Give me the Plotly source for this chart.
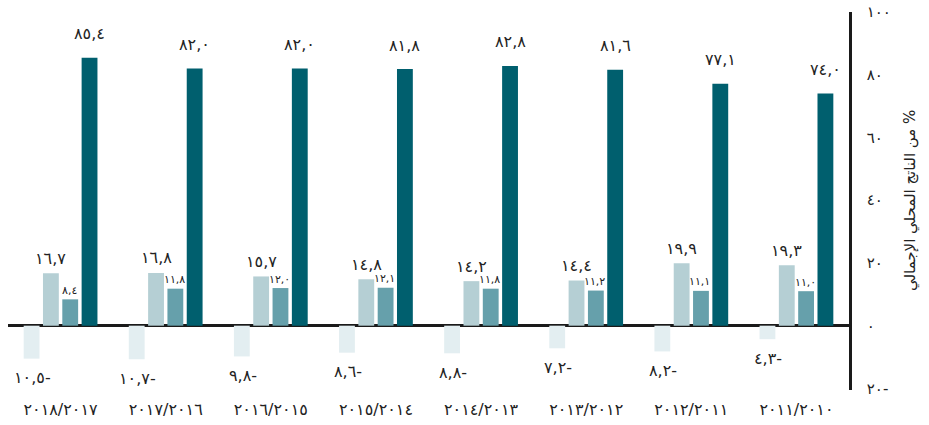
import plotly.graph_objects as go

categories = ["2018/2017", "2017/2016", "2016/2015", "2015/2014",
              "2014/2013", "2013/2012", "2012/2011", "2011/2010"]
series_pale = [-10.5, -10.7, -9.8, -8.6, -8.8, -7.2, -8.2, -4.3]
series_light = [16.7, 16.8, 15.7, 14.8, 14.2, 14.4, 19.9, 19.3]
series_medium = [8.4, 11.8, 12.0, 12.1, 11.8, 11.2, 11.1, 11.0]
series_dark = [85.4, 82.0, 82.0, 81.8, 82.8, 81.6, 77.1, 74.0]
y_ticks = [-20, 0, 20, 40, 60, 80, 100]
y_title = "من الناتج المحلي الإجمالي %"

AR = str.maketrans("0123456789", "٠١٢٣٤٥٦٧٨٩")


def ar_num(v, dec=1):
    s = f"{abs(v):.{dec}f}".replace(".", ",").translate(AR)
    return s + "-" if v < 0 else s


cat_labels = [c.translate(AR) for c in categories]
FONT = "DejaVu Sans"
TXT = "#222222"

colors = ["#e3eef1", "#b5cfd4", "#66a0ab", "#005f6e"]
series = [series_pale, series_light, series_medium, series_dark]
bargap = 0.265
bargroupgap = 0.18

fig = go.Figure()
xs = list(range(len(categories)))
for vals, col in zip(series, colors):
    fig.add_trace(go.Bar(x=xs, y=vals, marker=dict(color=col, line=dict(width=0)),
                         showlegend=False, hoverinfo="skip"))

# label styles per series: (font size, yshift, xshift)
label_style = [(16, -19, 1), (16, 15, 0), (11, 9, -1), (16, 24, 0)]
slot = (1 - bargap) / 4
for k, vals in enumerate(series):
    size, ysh, xsh = label_style[k]
    for i, v in enumerate(vals):
        xpos = i - (1 - bargap) / 2 + (k + 0.5) * slot
        fig.add_annotation(x=xpos, y=v, text=ar_num(v), showarrow=False,
                           xanchor="center", yanchor="middle",
                           yshift=ysh, xshift=xsh,
                           font=dict(family=FONT, size=size, color=TXT))

fig.add_annotation(xref="paper", yref="paper", x=1, y=0.5, xshift=61,
                   text=y_title, textangle=-90, showarrow=False,
                   xanchor="center", yanchor="middle",
                   font=dict(family=FONT, size=15, color=TXT))

fig.update_layout(
    width=929, height=425,
    margin=dict(l=8, r=80, t=12, b=35),
    paper_bgcolor="white", plot_bgcolor="white",
    barmode="group", bargap=bargap, bargroupgap=bargroupgap,
    font=dict(family=FONT, color=TXT),
    xaxis=dict(tickmode="array", tickvals=xs, ticktext=cat_labels,
               range=[-0.5, len(categories) - 0.5], automargin=False,
               showline=False, showgrid=False, zeroline=False,
               ticks="", ticklabelstandoff=8, ticklabeloverflow="allow",
               tickfont=dict(size=16, color=TXT)),
    yaxis=dict(side="right", range=[-20.5, 100], automargin=False,
               tickmode="array", tickvals=y_ticks,
               ticktext=[ar_num(t, 0) for t in y_ticks],
               showgrid=False, zeroline=True, zerolinecolor="#1a1a1a",
               zerolinewidth=2.5,
               showline=True, linecolor="#1a1a1a", linewidth=2.5,
               ticks="", ticklabelstandoff=12, ticklabeloverflow="allow",
               tickfont=dict(size=15, color=TXT)),
)

# remove the browser's default 8px body margin so the figure sits at the page origin
fig.write_html("out.html",
               config={"displayModeBar": False},
               post_script="document.body.style.margin='0';")
